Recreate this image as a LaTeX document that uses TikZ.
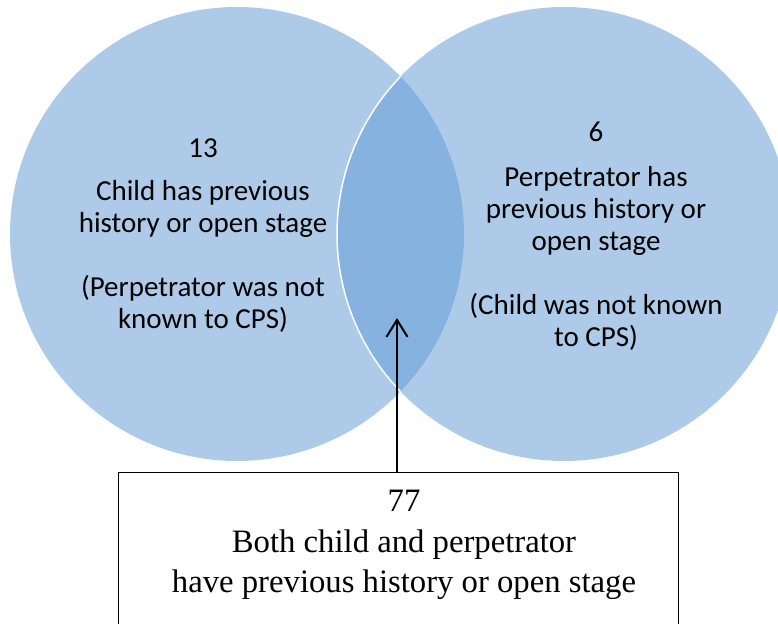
\documentclass[tikz,border=0pt]{standalone}
\usepackage{fontspec}
\setmainfont{Carlito}
\newfontfamily\boxserif{Liberation Serif}
\usetikzlibrary{arrows.meta}
\definecolor{circfill}{RGB}{173,203,233}
\definecolor{lensfill}{RGB}{133,178,222}
\tikzset{
  venn/.style={circle, minimum size=454pt, inner sep=0pt, fill=circfill},
  calibritext/.style={font=\fontsize{29}{32}\selectfont, align=center, inner sep=0pt, anchor=base},
  seriftext/.style={font=\boxserif\fontsize{32.7}{40}\selectfont, align=center, inner sep=0pt, anchor=base},
  labelbox/.style={draw=black, line width=1pt, fill=white, minimum width=560pt, minimum height=170pt, inner sep=0pt},
  pointer/.style={draw=black, line width=2.3pt, -{Straight Barb[length=17pt, width=21pt, line width=2pt]}}
}
\begin{document}
\begin{tikzpicture}[x=1pt, y=-1pt]
\useasboundingbox (0,0) rectangle (778,623);
\clip (0,0) rectangle (778,623);
\node[venn] (L) at (237,234) {};
\node[venn] (R) at (564,234) {};
\begin{scope}
  \clip (237,234) circle (227pt);
  \fill[lensfill] (564,234) circle (227pt);
  \draw[white, line width=1.5pt] (564,234) circle (227pt);
\end{scope}
\node[calibritext] (lefttext) at (203,328) {13\\[11pt]Child has previous\\history or open stage\\[32pt](Perpetrator was not\\known to CPS)};
\node[calibritext] (righttext) at (596,346) {6\\[13pt]Perpetrator has\\previous history or\\open stage\\[32pt](Child was not known\\to CPS)};
\node[labelbox] (box) at (398,557) {};
\node[seriftext] (boxtext) at (404,592) {77\\[1pt]Both child and perpetrator\\have previous history or open stage};
\coordinate (tip) at (397,318);
\draw[pointer] (box.north -| tip) -- (tip);
\end{tikzpicture}
\end{document}
